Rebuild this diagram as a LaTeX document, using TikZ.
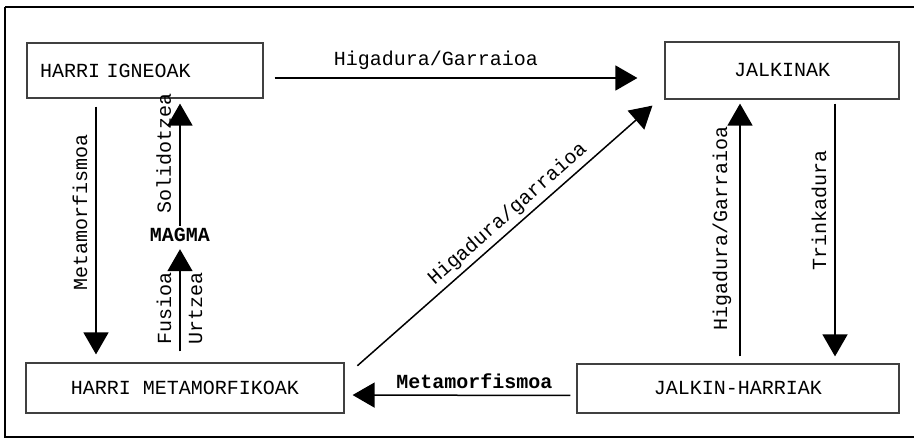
\documentclass[tikz,border=0pt]{standalone}
\usepackage{fontspec}
\setmainfont{Liberation Mono}
\usetikzlibrary{arrows.meta}
\begin{document}
\begin{tikzpicture}[x=0.5pt,y=-0.5pt,
        arrow/.style = {line width=0.75pt,-{Triangle[width=12.5pt,length=11pt]}},
        rock/.style = {draw=black!75,line width=0.6pt,inner sep=0pt},
        lbl/.style = {inner sep=4pt}]
    \useasboundingbox (0,0) rectangle (914,439);
    \draw[line width=0.8pt] (5,7) -- (914,7);
    \draw[line width=0.9pt] (5,7) -- (5,437) -- (914,437);

    \node[rock,minimum width=118pt,minimum height=27.5pt,
          inner xsep=6.5pt,text width=105pt,align=left]
        (igneo) at (145,70.5) {HARRI IGNEOAK};
    \node[rock,minimum width=117pt,minimum height=28.5pt]
        (jalk) at (782,70.5) {JALKINAK};
    \node[rock,minimum width=159pt,minimum height=25pt]
        (meta) at (185,388) {HARRI METAMORFIKOAK};
    \node[rock,minimum width=161pt,minimum height=24.5pt]
        (jharri) at (738,388.5) {JALKIN-HARRIAK};
    \node[font=\bfseries,inner sep=1pt] (magma) at (180,235) {MAGMA};

    \draw[arrow,shorten <=5.5pt,shorten >=13.5pt]
        ([yshift=-3.75pt]igneo.east) -- ([yshift=-3.75pt]jalk.west)
        node[lbl,pos=0.43,above] {Higadura/Garraioa};
    \draw[arrow,shorten <=4pt,shorten >=4pt]
        ([xshift=-24.5pt]igneo.south) -- ([xshift=-44.5pt]meta.north)
        node[lbl,pos=0.43,anchor=south,rotate=90] {Metamorfismoa};
    \draw[arrow,shorten >=2.5pt]
        (magma.north) -- (igneo.south -| magma.north)
        node[lbl,pos=0.57,anchor=south,rotate=90] {Solidotzea};
    \draw[arrow,shorten <=5.5pt,shorten >=2.5pt]
        (meta.north -| magma.south) -- (magma.south)
        node[lbl,pos=0.46,anchor=south,rotate=90] {Fusioa}
        node[lbl,pos=0.46,anchor=north,rotate=90] {Urtzea};
    \draw[arrow,shorten <=8.5pt]
        ([yshift=5.5pt]meta.east) -- ([xshift=-6pt,yshift=-3pt]jalk.south west)
        node[lbl,pos=0.56,above,sloped,inner sep=2pt] {Higadura/garraioa};
    \draw[arrow,shorten <=3.5pt,shorten >=2pt]
        ([xshift=1pt]jharri.north) -- ([xshift=-21pt]jalk.south)
        node[lbl,pos=0.51,anchor=south,rotate=90] {Higadura/Garraioa};
    \draw[arrow,shorten <=2pt,shorten >=3.5pt]
        ([xshift=26.5pt]jalk.south) -- ([xshift=48.5pt]jharri.north)
        node[lbl,pos=0.42,anchor=south,rotate=90] {Trinkadura};
    \draw[arrow,shorten <=3pt,shorten >=4pt]
        ([yshift=-3.5pt]jharri.west) -- ([yshift=-3.5pt]meta.east)
        node[lbl,pos=0.44,above,font=\bfseries,inner sep=3pt] {Metamorfismoa};
\end{tikzpicture}
\end{document}
